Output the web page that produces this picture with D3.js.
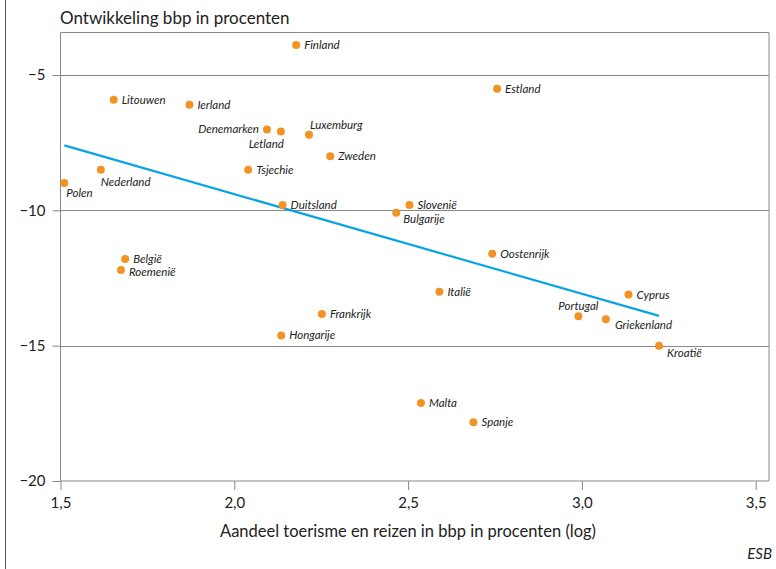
<!DOCTYPE html>
<html><head><meta charset="utf-8">
<script src="https://cdn.jsdelivr.net/npm/d3@7"></script>
<style>
body{margin:0;background:#fff;}
text{font-family:Lato,"Noto Sans",sans-serif;fill:#222;}
</style></head>
<body><svg id="c" width="776" height="569"></svg>
<script>
const countries = ["Finland","Estland","Litouwen","Ierland","Denemarken","Letland","Luxemburg","Zweden","Tsjechie","Nederland","Polen","Duitsland","Slovenië","Bulgarije","Oostenrijk","België","Roemenië","Italië","Cyprus","Frankrijk","Portugal","Griekenland","Hongarije","Kroatië","Malta","Spanje"];
const tourism = [2.178,2.756,1.653,1.871,2.094,2.134,2.215,2.276,2.040,1.616,1.511,2.139,2.504,2.466,2.742,1.686,1.674,2.590,3.134,2.252,2.990,3.069,2.135,3.222,2.537,2.688];
const gdp = [-3.89,-5.51,-5.91,-6.10,-7.01,-7.09,-7.21,-8.00,-8.50,-8.50,-8.99,-9.80,-9.80,-10.09,-11.60,-11.80,-12.20,-13.01,-13.11,-13.83,-13.91,-14.02,-14.62,-15.00,-17.12,-17.83];
const trendX = [1.511, 3.222];
const trendY = [-7.60, -13.90];
const xTicks = [1.5,2.0,2.5,3.0,3.5];
const yTicks = [-5,-10,-15,-20];
// label placement: dx, dy, anchor
const labelPos = {
  "Denemarken":[-8,4,"end"],
  "Letland":[3,16,"end"],
  "Luxemburg":[1,-6,"start"],
  "Nederland":[0,16,"start"],
  "Polen":[2,14,"start"],
  "Bulgarije":[7,10,"start"],
  "Portugal":[20,-6,"end"],
  "Griekenland":[9,10,"start"],
  "Kroatië":[8,11,"start"],
  "Roemenië":[8,6,"start"]
};

const svg = d3.select("#c");
const L=60.5, R=769, T=32.5, B=481;
const x = d3.scaleLinear().domain([1.5,3.5]).range([L,755.7]);
const y = d3.scaleLinear().domain([-5,-20]).range([75,481]);

// left page rule
svg.append("line").attr("x1",5.5).attr("x2",5.5).attr("y1",0).attr("y2",569).attr("stroke","#555").attr("stroke-width",1);

// gridlines
svg.append("g").selectAll("line").data(yTicks.filter(d=>d>-20)).join("line")
  .attr("x1",L).attr("x2",R).attr("y1",d=>Math.round(y(d))+0.5).attr("y2",d=>Math.round(y(d))+0.5)
  .attr("stroke","#888").attr("stroke-width",1);

// frame
svg.append("path").attr("d",`M${L},${B}V${T}H${R}V${B}H${L}`).attr("fill","none").attr("stroke","#888").attr("stroke-width",1);

// y axis
const ya = svg.append("g").attr("transform",`translate(${L},0)`)
  .call(d3.axisLeft(y).tickValues(yTicks).tickSize(8).tickPadding(7).tickFormat(d=>"−"+Math.abs(d)));
ya.select(".domain").remove();
ya.selectAll("line").attr("stroke","#888");
ya.selectAll("text").attr("font-size",15).style("fill","#222").attr("font-family","Lato,sans-serif");

// x axis
const xa = svg.append("g").attr("transform",`translate(0,${B})`)
  .call(d3.axisBottom(x).tickValues(xTicks).tickSize(9).tickPadding(7).tickFormat(d=>d3.format(".1f")(d).replace(".",",")));
xa.select(".domain").remove();
xa.selectAll("line").attr("stroke","#888");
xa.selectAll("text").attr("font-size",15).style("fill","#222").attr("font-family","Lato,sans-serif");

// trend line
svg.append("line")
  .attr("x1",x(trendX[0])).attr("y1",y(trendY[0]))
  .attr("x2",x(trendX[1])).attr("y2",y(trendY[1]))
  .attr("stroke","#0aa3e6").attr("stroke-width",2.2);

const pts = countries.map((c,i)=>({c, x:tourism[i], y:gdp[i]}));
svg.append("g").selectAll("circle").data(pts).join("circle")
  .attr("cx",d=>x(d.x)).attr("cy",d=>y(d.y)).attr("r",4).attr("fill","#f39323");

svg.append("g").selectAll("text").data(pts).join("text")
  .attr("x",d=>x(d.x)+(labelPos[d.c]?labelPos[d.c][0]:8))
  .attr("y",d=>y(d.y)+(labelPos[d.c]?labelPos[d.c][1]:4))
  .attr("text-anchor",d=>labelPos[d.c]?labelPos[d.c][2]:"start")
  .attr("font-size",11.5).attr("font-style","italic")
  .text(d=>d.c);

svg.append("text").attr("x",60).attr("y",24).attr("font-size",17).text("Ontwikkeling bbp in procenten");
svg.append("text").attr("x",408).attr("y",537).attr("text-anchor","middle").attr("font-size",16.5).text("Aandeel toerisme en reizen in bbp in procenten (log)");
svg.append("text").attr("x",772).attr("y",559).attr("text-anchor","end").attr("font-size",15).attr("font-style","italic").text("ESB");
</script></body></html>
